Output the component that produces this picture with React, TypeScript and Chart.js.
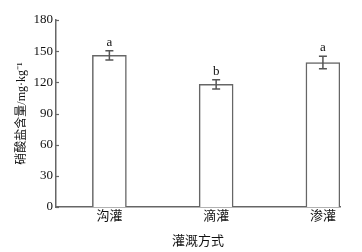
import React, { useEffect, useRef } from "react";
import { Chart, registerables } from "chart.js";

Chart.register(...registerables);

// Nitrate content by irrigation method
const categories = ["沟灌", "滴灌", "渗灌"];
const nitrate = [146, 118, 139];
const errors = [4.5, 4.5, 6];
const letters = ["a", "b", "a"];
const yTicks = [0, 30, 60, 90, 120, 150, 180];

const FONT = "'Liberation Serif', 'Times New Roman', 'Noto Sans CJK SC', serif";
const AXIS = "#666";

const annotate = {
  id: "annotate",
  afterDatasetsDraw(chart: any) {
    const { ctx, scales } = chart;
    const x = scales.x;
    const y = scales.y;
    ctx.save();
    ctx.strokeStyle = AXIS;
    ctx.lineWidth = 1.2;
    // short inward tick marks on the value axis
    for (const v of yTicks) {
      const py = Math.round(y.getPixelForValue(v)) + 0.5;
      ctx.beginPath();
      ctx.moveTo(x.left, py);
      ctx.lineTo(x.left + 3, py);
      ctx.stroke();
    }
    // error bars with caps, and significance letters above them
    ctx.strokeStyle = "#555";
    ctx.lineWidth = 1.5;
    ctx.fillStyle = "#111";
    ctx.font = `13px ${FONT}`;
    ctx.textAlign = "center";
    ctx.textBaseline = "alphabetic";
    categories.forEach((_, i) => {
      const px = x.getPixelForValue(i + 1);
      const hi = y.getPixelForValue(nitrate[i] + errors[i]);
      const lo = y.getPixelForValue(nitrate[i] - errors[i]);
      ctx.beginPath();
      ctx.moveTo(px, hi);
      ctx.lineTo(px, lo);
      ctx.moveTo(px - 4, hi);
      ctx.lineTo(px + 4, hi);
      ctx.moveTo(px - 4, lo);
      ctx.lineTo(px + 4, lo);
      ctx.stroke();
      ctx.fillText(letters[i], px, hi - 5);
    });
    ctx.restore();
  },
};

export default function App() {
  const ref = useRef<HTMLCanvasElement | null>(null);

  useEffect(() => {
    if (!ref.current) return;
    const chart = new Chart(ref.current, {
      type: "bar",
      data: {
        datasets: [
          {
            data: categories.map((_, i) => ({ x: i + 1, y: nitrate[i] })),
            backgroundColor: "#ffffff",
            borderColor: "#666",
            borderWidth: 1.5,
            barThickness: 34,
          },
        ],
      },
      options: {
        responsive: false,
        animation: false,
        layout: { padding: { top: 20, right: 22, left: 0, bottom: 0 } },
        plugins: {
          legend: { display: false },
          tooltip: { enabled: false },
        },
        scales: {
          x: {
            type: "linear",
            min: 0.5,
            max: 3.16,
            offset: false,
            afterBuildTicks: (s: any) => {
              s.ticks = categories.map((_, i) => ({ value: i + 1 }));
            },
            afterFit: (s: any) => {
              s.height = 45;
            },
            ticks: {
              callback: (v: any) => categories[Number(v) - 1] ?? "",
              font: { family: FONT, size: 13 },
              color: "#111",
              padding: 2,
              autoSkip: false,
              maxRotation: 0,
            },
            grid: { display: false, drawTicks: false, tickLength: 0, offset: false },
            border: { display: true, color: AXIS, width: 1.5 },
            title: {
              display: true,
              text: "灌溉方式",
              font: { family: FONT, size: 13 },
              color: "#111",
              padding: { top: 0, bottom: 3 },
            },
          },
          y: {
            min: 0,
            max: 180,
            afterBuildTicks: (s: any) => {
              s.ticks = yTicks.map((v) => ({ value: v }));
            },
            afterFit: (s: any) => {
              s.width = 56;
            },
            ticks: {
              font: { family: FONT, size: 13 },
              color: "#111",
              padding: 3,
            },
            grid: { display: false, drawTicks: false, tickLength: 0 },
            border: { display: true, color: AXIS, width: 1.5 },
            title: {
              display: true,
              text: "硝酸盐含量/mg·kg⁻¹",
              font: { family: FONT, size: 12 },
              color: "#111",
              padding: { top: 15, bottom: 0 },
            },
          },
        },
      },
      plugins: [annotate],
    } as any);
    return () => chart.destroy();
  }, []);

  return (
    <div style={{ position: "fixed", left: 0, top: 0, width: 362, height: 252, background: "#fff" }}>
      <canvas ref={ref} width={362} height={252} style={{ display: "block" }} />
    </div>
  );
}
